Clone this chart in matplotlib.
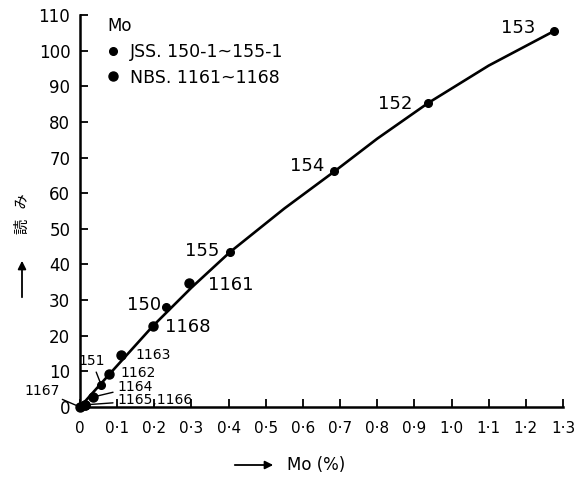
import matplotlib
matplotlib.use('Agg')
import matplotlib.pyplot as plt
import numpy as np

plt.rcParams['font.family'] = ['DejaVu Sans', 'Noto Sans CJK JP']

# JSS samples 150-1 ~ 155-1
jss_names = ['150', '151', '152', '153', '154', '155']
jss_x = [0.231, 0.057, 0.937, 1.276, 0.684, 0.404]
jss_y = [28.0, 6.2, 85.3, 105.5, 66.2, 43.5]

# NBS samples 1161 ~ 1168
nbs_names = ['1161', '1162', '1163', '1164', '1165', '1166', '1167', '1168']
nbs_x = [0.293, 0.078, 0.110, 0.035, 0.013, 0.013, 0.0, 0.196]
nbs_y = [34.8, 9.3, 14.6, 2.8, 0.6, 0.6, 0.0, 22.7]

# calibration curve
curve_x = [0, 0.08, 0.196, 0.30, 0.404, 0.55, 0.686, 0.80, 0.937, 1.10, 1.276]
curve_y = [0, 9.3, 22.7, 33.5, 43.5, 55.7, 66.2, 75.3, 85.3, 95.8, 105.5]

xticks = [0, 0.1, 0.2, 0.3, 0.4, 0.5, 0.6, 0.7, 0.8, 0.9, 1.0, 1.1, 1.2, 1.3]
xticklabels = ['0', '0·1', '0·2', '0·3', '0·4', '0·5', '0·6', '0·7', '0·8', '0·9', '1·0', '1·1', '1·2', '1·3']
yticks = list(range(0, 111, 10))

fig = plt.figure(figsize=(5.88, 4.79), dpi=100)
ax = fig.add_axes([80/588, 1-407/479, 483/588, 392/479])

ax.plot(curve_x, curve_y, color='black', lw=1.9, clip_on=False, zorder=2)
ax.plot(jss_x, jss_y, 'o', color='black', ms=5.5, ls='none', clip_on=False, zorder=3,
        label='JSS. 150-1~155-1')
ax.plot(nbs_x, nbs_y, 'o', color='black', ms=6.5, ls='none', clip_on=False, zorder=3,
        label='NBS. 1161~1168')

big = 13
small = 10
# point labels (text position in data units)
ax.text(1.225, 106.3, '153', ha='right', va='center', fontsize=big)
ax.text(0.894, 85.0, '152', ha='right', va='center', fontsize=big)
ax.text(0.657, 67.6, '154', ha='right', va='center', fontsize=big)
ax.text(0.374, 43.8, '155', ha='right', va='center', fontsize=big)
ax.text(0.345, 34.2, '1161', ha='left', va='center', fontsize=big)
ax.text(0.218, 28.6, '150', ha='right', va='center', fontsize=big)
ax.text(0.229, 22.4, '1168', ha='left', va='center', fontsize=big)
ax.text(0.148, 14.6, '1163', ha='left', va='center', fontsize=small)
ax.text(0.108, 9.5, '1162', ha='left', va='center', fontsize=small)

lp = dict(arrowstyle='-', color='black', lw=1.0, shrinkA=1, shrinkB=2)
ax.annotate('1164', xy=(nbs_x[3], nbs_y[3]), xytext=(0.100, 5.6), ha='left', va='center',
            fontsize=small, arrowprops=lp)
ax.annotate('1165,1166', xy=(nbs_x[4], nbs_y[4]), xytext=(0.100, 2.0), ha='left', va='center',
            fontsize=small, arrowprops=lp)
ax.annotate('151', xy=(jss_x[1], jss_y[1]), xytext=(0.032, 12.9), ha='center', va='center',
            fontsize=small, arrowprops=lp, annotation_clip=False)
ax.annotate('1167', xy=(nbs_x[6], nbs_y[6]), xytext=(-0.055, 4.6), ha='right', va='center',
            fontsize=small, arrowprops=dict(arrowstyle='-', color='black', lw=1.0, shrinkA=0, shrinkB=0),
            annotation_clip=False)

ax.set_xlim(0, 1.3)
ax.set_ylim(0, 110)
ax.set_xticks(xticks)
ax.set_xticklabels(xticklabels, fontsize=11)
ax.set_yticks(yticks)
ax.set_yticklabels([str(v) for v in yticks], fontsize=12)
ax.tick_params(direction='in', length=6, width=1.3)
ax.tick_params(axis='x', pad=10)
ax.tick_params(axis='y', pad=7)
for s in ['top', 'right']:
    ax.spines[s].set_visible(False)
for s in ['left', 'bottom']:
    ax.spines[s].set_linewidth(1.8)

leg = ax.legend(loc='upper left', bbox_to_anchor=(0.025, 1.035), frameon=False, title='Mo',
                fontsize=12.5, title_fontsize=12, handlelength=0.6, handletextpad=0.7,
                labelspacing=0.45, alignment='left')

# axis labels with arrows
fig.text(287/588, 1-465/479, 'Mo (%)', ha='left', va='center', fontsize=12)
fig.add_artist(matplotlib.patches.FancyArrowPatch((232/588, 1-465/479), (276/588, 1-465/479),
               transform=fig.transFigure, arrowstyle='-|>', mutation_scale=12, color='black', lw=1.3))
fig.text(22/588, 1-214/479, '読   み', ha='center', va='center', rotation=90, fontsize=11,
         family=['Noto Sans CJK JP', 'DejaVu Sans'])
fig.add_artist(matplotlib.patches.FancyArrowPatch((22/588, 1-300/479), (22/588, 1-258/479),
               transform=fig.transFigure, arrowstyle='-|>', mutation_scale=12, color='black', lw=1.3))

fig.savefig('out.png', dpi=100)
